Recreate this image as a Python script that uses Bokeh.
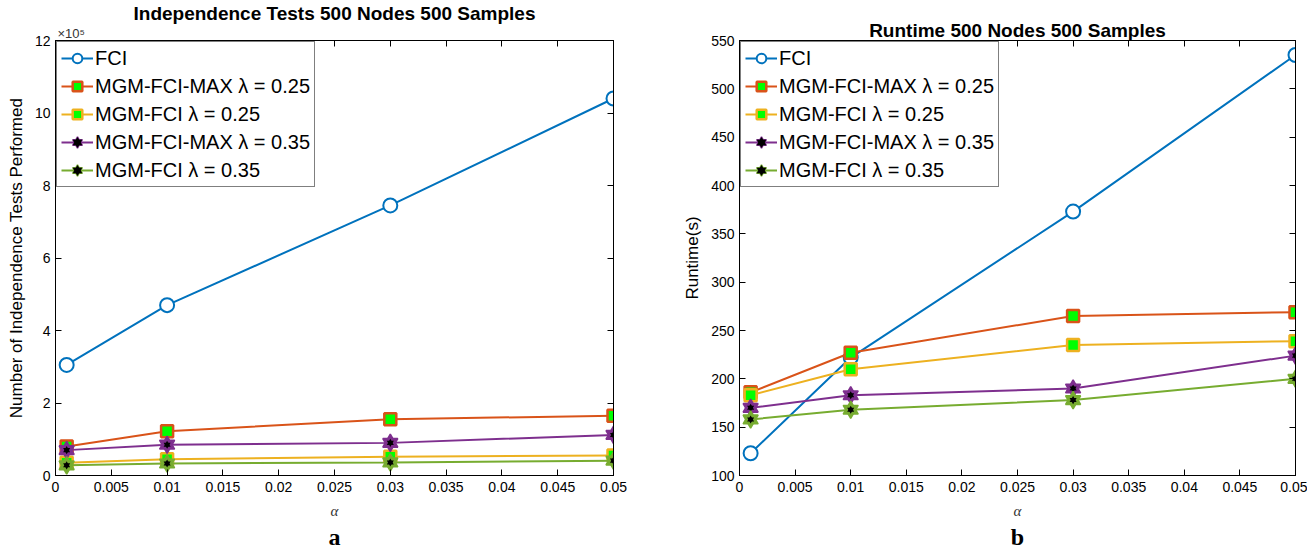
from bokeh.plotting import figure
from bokeh.layouts import row
from bokeh.models import (ColumnDataSource, Legend, LegendItem, LinearAxis, FixedTicker,
                          Range1d, Title, CustomJSTickFormatter)
from bokeh.embed import file_html
from bokeh.resources import INLINE

alpha = [0.001, 0.01, 0.03, 0.05]

series_names = ["FCI", "MGM-FCI-MAX λ = 0.25", "MGM-FCI λ = 0.25",
                "MGM-FCI-MAX λ = 0.35", "MGM-FCI λ = 0.35"]

# Independence tests (x 10^5)
tests_fci = [3.05, 4.70, 7.45, 10.40]
tests_max25 = [0.80, 1.22, 1.55, 1.65]
tests_fci25 = [0.35, 0.45, 0.52, 0.55]
tests_max35 = [0.70, 0.85, 0.90, 1.12]
tests_fci35 = [0.28, 0.33, 0.36, 0.41]

# Runtime (s)
rt_fci = [123, 222, 373, 535]
rt_max25 = [186, 227, 265, 269]
rt_fci25 = [183, 210, 235, 239]
rt_max35 = [170, 183, 190, 224]
rt_fci35 = [158, 168, 178, 200]

x_ticks = [0, 0.005, 0.01, 0.015, 0.02, 0.025, 0.03, 0.035, 0.04, 0.045, 0.05]
x_tick_labels = {0: "0", 0.005: "0.005", 0.01: "0.01", 0.015: "0.015", 0.02: "0.02",
                 0.025: "0.025", 0.03: "0.03", 0.035: "0.035", 0.04: "0.04",
                 0.045: "0.045", 0.05: "0.05"}
left_y_ticks = [0, 2, 4, 6, 8, 10, 12]
right_y_ticks = [100, 150, 200, 250, 300, 350, 400, 450, 500, 550]

colors = ["#0072BD", "#D95319", "#EDB120", "#7E2F8E", "#77AC30"]
FONT = "Liberation Sans"


def add_series(p, ys, color, kind):
    src = ColumnDataSource(dict(x=alpha, y=ys))
    rs = [p.line("x", "y", source=src, line_color=color, line_width=2)]
    if kind == "circle":
        rs.append(p.scatter("x", "y", source=src, marker="circle", size=14,
                            fill_color="white", line_color=color, line_width=2))
    elif kind == "square":
        rs.append(p.scatter("x", "y", source=src, marker="square", size=12,
                            fill_color="#00FF00", line_color=color, line_width=2.5))
    else:
        for m in ("triangle", "inverted_triangle"):
            rs.append(p.scatter("x", "y", source=src, marker=m, size=15,
                                fill_color=color, line_color=color, line_width=1.5))
        for m in ("triangle", "inverted_triangle"):
            rs.append(p.scatter("x", "y", source=src, marker=m, size=7,
                                fill_color="black", line_color="black", line_width=0))
    return rs


def make_panel(title, ylabel, yr, yticks, data, width, bl, br, letter, extra_top=None):
    p = figure(width=width, height=549, output_backend="svg", toolbar_location=None,
               x_range=Range1d(0, 0.05), y_range=Range1d(*yr),
               min_border_left=bl, min_border_right=br, min_border_top=38,
               min_border_bottom=73)
    p.title.text = title
    p.title.align = "center"
    p.title.text_font = FONT
    p.title.text_font_size = "19px"
    p.title.text_font_style = "bold"
    p.title.text_color = "black"
    p.title.standoff = 0
    p.grid.visible = False
    p.outline_line_color = "black"
    p.outline_line_width = 1
    p.background_fill_color = "white"
    p.border_fill_color = "white"

    kinds = ["circle", "square", "square", "star", "star"]
    items = []
    for ys, c, k, n in zip(data, colors, kinds, series_names):
        rs = add_series(p, ys, c, k)
        items.append(LegendItem(label=n, renderers=rs))

    legend = Legend(items=items, location="top_left", margin=1,
                    label_text_font=FONT, label_text_font_size="20px",
                    label_text_color="black", border_line_color="black",
                    border_line_width=1.2, background_fill_alpha=1,
                    spacing=4, padding=4, glyph_width=32, glyph_height=24,
                    label_standoff=2, label_height=24)
    p.add_layout(legend)

    for ax in (p.xaxis[0], p.yaxis[0]):
        ax.major_tick_in = 6
        ax.major_tick_out = 0
        ax.minor_tick_line_color = None
        ax.axis_line_color = "black"
        ax.major_tick_line_color = "black"
        ax.major_label_text_font = FONT
        ax.major_label_text_font_size = "14px"
        ax.major_label_text_color = "black"
        ax.axis_label_text_color = "black"
    p.xaxis[0].ticker = FixedTicker(ticks=x_ticks)
    p.xaxis[0].major_label_overrides = x_tick_labels
    p.yaxis[0].ticker = FixedTicker(ticks=yticks)
    p.xaxis[0].major_label_standoff = 6
    p.yaxis[0].major_label_standoff = 5
    p.xaxis[0].axis_label = "α"
    p.xaxis[0].axis_label_text_font = "Liberation Serif"
    p.xaxis[0].axis_label_text_font_style = "italic"
    p.xaxis[0].axis_label_text_font_size = "15px"
    p.xaxis[0].axis_label_text_color = "#333333"
    p.xaxis[0].axis_label_standoff = 8
    p.yaxis[0].axis_label = ylabel
    p.yaxis[0].axis_label_text_font = FONT
    p.yaxis[0].axis_label_text_font_style = "normal"
    p.yaxis[0].axis_label_text_font_size = "17px"
    p.yaxis[0].axis_label_standoff = 6

    blank = CustomJSTickFormatter(code="return ''")
    right = LinearAxis(ticker=FixedTicker(ticks=yticks), formatter=blank,
                       major_tick_in=6, major_tick_out=0, minor_tick_line_color=None,
                       axis_line_color="black", major_label_standoff=0)
    top = LinearAxis(ticker=FixedTicker(ticks=x_ticks), formatter=blank,
                     major_tick_in=6, major_tick_out=0, minor_tick_line_color=None,
                     axis_line_color="black", major_label_standoff=0)
    p.add_layout(right, "right")
    p.add_layout(top, "above")
    if extra_top:
        p.add_layout(Title(text=extra_top, align="left", offset=2, standoff=0,
                           text_font=FONT, text_font_size="13px",
                           text_font_style="normal", text_color="#333333"), "above")

    lt = Title(text=letter, align="center", text_font="Liberation Serif",
               text_font_size="24px", text_font_style="bold", text_color="black",
               standoff=0)
    p.add_layout(lt, "below")
    return p


p1 = make_panel("Independence Tests 500 Nodes 500 Samples",
                "Number of Independence Tests Performed", (0, 12), left_y_ticks,
                [tests_fci, tests_max25, tests_fci25, tests_max35, tests_fci35],
                width=660, bl=55, br=47, letter="a", extra_top="×10⁵")

p2 = make_panel("Runtime 500 Nodes 500 Samples", "Runtime(s)", (100, 550), right_y_ticks,
                [rt_fci, rt_max25, rt_fci25, rt_max35, rt_fci35],
                width=647, bl=79, br=12, letter="b")

layout = row(p1, p2)
open("out.html", "w").write(file_html(layout, INLINE))
